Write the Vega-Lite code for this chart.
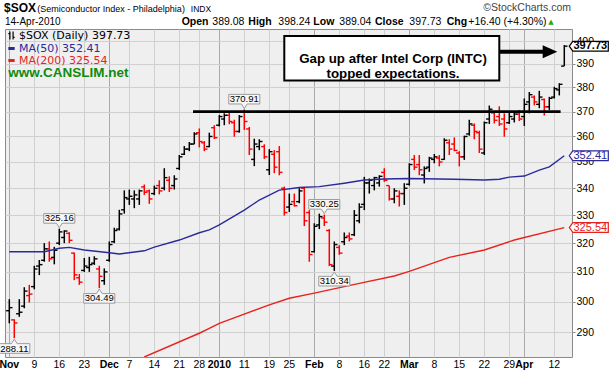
{
"$schema": "https://vega.github.io/schema/vega-lite/v6.json",
"width": 567, "height": 328,
"autosize": {"type": "none"},
"padding": {"left": 5, "top": 29, "right": 42, "bottom": 19},
"background": "white",
"config": {"view": {"fill": "#efefef", "stroke": "#8a8a8a", "strokeWidth": 1}},
"datasets": {
"ohlc": [
{"d":"2009-11-02","o":297,"h":300.8,"l":292.9,"c":298},
{"d":"2009-11-03","o":294,"h":294.2,"l":288.11,"c":293},
{"d":"2009-11-04","o":296,"h":300.8,"l":295.0,"c":296.5},
{"d":"2009-11-05","o":298.5,"h":304.8,"l":297.8,"c":303.5},
{"d":"2009-11-06","o":302,"h":305.6,"l":299.7,"c":302.5},
{"d":"2009-11-09","o":305,"h":312.1,"l":304.1,"c":311},
{"d":"2009-11-10","o":312,"h":314.1,"l":308.9,"c":312.5},
{"d":"2009-11-11","o":314,"h":320.0,"l":313.5,"c":318},
{"d":"2009-11-12","o":318,"h":320.6,"l":313.5,"c":314.5},
{"d":"2009-11-13","o":315,"h":318.7,"l":312.6,"c":317.5},
{"d":"2009-11-16","o":320,"h":325.16,"l":319.3,"c":324},
{"d":"2009-11-17","o":322,"h":324.6,"l":320,"c":324.3},
{"d":"2009-11-18","o":323.5,"h":323.9,"l":320,"c":321},
{"d":"2009-11-19","o":316.5,"h":316.7,"l":307.2,"c":309},
{"d":"2009-11-20","o":308,"h":309.3,"l":305.6,"c":306.5},
{"d":"2009-11-23","o":310.5,"h":314.8,"l":310.0,"c":312},
{"d":"2009-11-24","o":311.5,"h":315.2,"l":310.0,"c":312.5},
{"d":"2009-11-25","o":313,"h":315.4,"l":312.4,"c":314.5},
{"d":"2009-11-27","o":311,"h":312.1,"l":304.49,"c":308.5},
{"d":"2009-11-30","o":307,"h":311.2,"l":305.6,"c":310},
{"d":"2009-12-01","o":314,"h":320.6,"l":313.5,"c":319.5},
{"d":"2009-12-02","o":320.5,"h":325.5,"l":320,"c":324.5},
{"d":"2009-12-03","o":325,"h":332,"l":324.5,"c":330.5},
{"d":"2009-12-04","o":332,"h":339.2,"l":330.6,"c":336.5},
{"d":"2009-12-07","o":336,"h":339.5,"l":333.8,"c":337},
{"d":"2009-12-08","o":336,"h":339.2,"l":332.6,"c":337.5},
{"d":"2009-12-09","o":336,"h":339.5,"l":333.8,"c":339},
{"d":"2009-12-10","o":340.5,"h":341.4,"l":337.5,"c":338.5},
{"d":"2009-12-11","o":339,"h":339.5,"l":334.2,"c":336},
{"d":"2009-12-14","o":338,"h":341.0,"l":337.4,"c":340},
{"d":"2009-12-15","o":341,"h":343.0,"l":337.7,"c":339},
{"d":"2009-12-16","o":340,"h":347.6,"l":339.2,"c":344},
{"d":"2009-12-17","o":343,"h":344.5,"l":338.6,"c":340},
{"d":"2009-12-18","o":341,"h":344.9,"l":339.5,"c":343.5},
{"d":"2009-12-21","o":347.5,"h":352.7,"l":346.9,"c":352},
{"d":"2009-12-22","o":353,"h":356.2,"l":352.7,"c":355},
{"d":"2009-12-23","o":355,"h":357.8,"l":354.2,"c":357},
{"d":"2009-12-24","o":357,"h":361.7,"l":356.9,"c":361},
{"d":"2009-12-28","o":361.5,"h":363.2,"l":355.7,"c":358},
{"d":"2009-12-29","o":357.5,"h":358.2,"l":354.2,"c":355},
{"d":"2009-12-30","o":356,"h":361.5,"l":355.7,"c":360},
{"d":"2009-12-31","o":363.5,"h":364.5,"l":359,"c":359.5},
{"d":"2010-01-04","o":364.5,"h":368.6,"l":364.0,"c":368},
{"d":"2010-01-05","o":367,"h":369.3,"l":364.5,"c":368.5},
{"d":"2010-01-06","o":368.5,"h":369.9,"l":364.9,"c":366},
{"d":"2010-01-07","o":365.5,"h":366.7,"l":359.9,"c":362},
{"d":"2010-01-08","o":362,"h":368.6,"l":361.5,"c":368},
{"d":"2010-01-11","o":370,"h":370.91,"l":362.6,"c":366},
{"d":"2010-01-12","o":363,"h":363.8,"l":352.7,"c":355},
{"d":"2010-01-13","o":351,"h":359.1,"l":348.4,"c":357},
{"d":"2010-01-14","o":356,"h":358.9,"l":354.6,"c":358},
{"d":"2010-01-15","o":356,"h":356.9,"l":351.2,"c":352},
{"d":"2010-01-19","o":347,"h":355,"l":345,"c":354},
{"d":"2010-01-20","o":353,"h":354.6,"l":345.7,"c":348},
{"d":"2010-01-21","o":354,"h":356.2,"l":344.9,"c":346},
{"d":"2010-01-22","o":340,"h":340.6,"l":329.9,"c":331},
{"d":"2010-01-25","o":333,"h":338.0,"l":331.2,"c":334},
{"d":"2010-01-26","o":335,"h":338.0,"l":333.2,"c":333.5},
{"d":"2010-01-27","o":335,"h":340,"l":334.4,"c":339},
{"d":"2010-01-28","o":340,"h":340.5,"l":326.1,"c":328},
{"d":"2010-01-29","o":331,"h":331.9,"l":313.5,"c":316},
{"d":"2010-02-01","o":317,"h":327.1,"l":316.7,"c":326},
{"d":"2010-02-02","o":326.5,"h":330.6,"l":325.0,"c":329.5},
{"d":"2010-02-03","o":329,"h":330.25,"l":326.1,"c":327.5},
{"d":"2010-02-04","o":324.5,"h":325,"l":312.0,"c":312.5},
{"d":"2010-02-05","o":312,"h":320.6,"l":310.34,"c":319.5},
{"d":"2010-02-08","o":318.5,"h":319.3,"l":315.9,"c":316.5},
{"d":"2010-02-09","o":320.5,"h":323.8,"l":319.3,"c":322},
{"d":"2010-02-10","o":322.5,"h":323.8,"l":320.6,"c":321.5},
{"d":"2010-02-11","o":323,"h":331.9,"l":322.5,"c":330},
{"d":"2010-02-12","o":328,"h":334.4,"l":327.1,"c":333},
{"d":"2010-02-16","o":334,"h":344.3,"l":331.9,"c":342},
{"d":"2010-02-17","o":342,"h":343.7,"l":338,"c":343},
{"d":"2010-02-18","o":341,"h":344.3,"l":339.2,"c":344},
{"d":"2010-02-19","o":342,"h":344.9,"l":340.6,"c":344.5},
{"d":"2010-02-22","o":346,"h":347.6,"l":342.4,"c":343},
{"d":"2010-02-23","o":341,"h":341,"l":335.4,"c":336},
{"d":"2010-02-24","o":336,"h":340,"l":334.4,"c":339},
{"d":"2010-02-25","o":337,"h":339.2,"l":333.2,"c":338},
{"d":"2010-02-26","o":338,"h":341.9,"l":333.8,"c":340},
{"d":"2010-03-01","o":341.5,"h":349.5,"l":341,"c":349},
{"d":"2010-03-02","o":351,"h":352.7,"l":346.9,"c":348},
{"d":"2010-03-03","o":349,"h":352.7,"l":344.9,"c":347},
{"d":"2010-03-04","o":345,"h":348.3,"l":341.8,"c":347.5},
{"d":"2010-03-05","o":348,"h":352.0,"l":346.2,"c":351.5},
{"d":"2010-03-08","o":351,"h":353.1,"l":349.5,"c":352},
{"d":"2010-03-09","o":351.5,"h":352.7,"l":348.3,"c":350},
{"d":"2010-03-10","o":351,"h":359.3,"l":350.8,"c":358.5},
{"d":"2010-03-11","o":357.5,"h":358.9,"l":352.7,"c":355},
{"d":"2010-03-12","o":357,"h":359.6,"l":354.2,"c":354.5},
{"d":"2010-03-15","o":353.5,"h":354.2,"l":348.3,"c":352},
{"d":"2010-03-16","o":352,"h":360.3,"l":350.8,"c":360},
{"d":"2010-03-17","o":361,"h":366.7,"l":360.3,"c":365},
{"d":"2010-03-18","o":364.5,"h":365.2,"l":358.9,"c":362},
{"d":"2010-03-19","o":361.5,"h":362.3,"l":353.5,"c":355},
{"d":"2010-03-22","o":353.5,"h":366,"l":352.7,"c":365.5},
{"d":"2010-03-23","o":367,"h":372.5,"l":365,"c":371},
{"d":"2010-03-24","o":369.5,"h":370,"l":365.2,"c":366.5},
{"d":"2010-03-25","o":368,"h":372.2,"l":364.2,"c":365},
{"d":"2010-03-26","o":367,"h":369.3,"l":359.9,"c":363},
{"d":"2010-03-29","o":365.5,"h":369.6,"l":365,"c":368},
{"d":"2010-03-30","o":367,"h":370,"l":365.6,"c":369},
{"d":"2010-03-31","o":369,"h":370.7,"l":366.2,"c":367},
{"d":"2010-04-01","o":368,"h":375.4,"l":364.2,"c":373},
{"d":"2010-04-05","o":374,"h":378.1,"l":369.3,"c":377},
{"d":"2010-04-06","o":376,"h":376.7,"l":372.6,"c":374},
{"d":"2010-04-07","o":373,"h":378.6,"l":371.4,"c":376},
{"d":"2010-04-08","o":375,"h":375.4,"l":368.4,"c":372},
{"d":"2010-04-09","o":372,"h":376.1,"l":370.7,"c":375.5},
{"d":"2010-04-12","o":376,"h":380.3,"l":375.4,"c":379.5},
{"d":"2010-04-13","o":379,"h":381.8,"l":376.7,"c":381.33},
{"d":"2010-04-14","o":389.08,"h":398.24,"l":389.04,"c":397.73}
],
"ma": [
{"d":"2009-11-02","s":"MA(50) 352.41","v":317.0},
{"d":"2009-11-11","s":"MA(50) 352.41","v":317.0},
{"d":"2009-11-16","s":"MA(50) 352.41","v":318.2},
{"d":"2009-11-18","s":"MA(50) 352.41","v":318.5},
{"d":"2009-11-23","s":"MA(50) 352.41","v":317.6},
{"d":"2009-12-01","s":"MA(50) 352.41","v":316.6},
{"d":"2009-12-03","s":"MA(50) 352.41","v":316.2},
{"d":"2009-12-10","s":"MA(50) 352.41","v":317.3},
{"d":"2009-12-14","s":"MA(50) 352.41","v":318.6},
{"d":"2009-12-21","s":"MA(50) 352.41","v":321.1},
{"d":"2009-12-28","s":"MA(50) 352.41","v":323.7},
{"d":"2009-12-30","s":"MA(50) 352.41","v":324.7},
{"d":"2010-01-04","s":"MA(50) 352.41","v":326.5},
{"d":"2010-01-11","s":"MA(50) 352.41","v":331.9},
{"d":"2010-01-14","s":"MA(50) 352.41","v":335.6},
{"d":"2010-01-21","s":"MA(50) 352.41","v":339.3},
{"d":"2010-01-27","s":"MA(50) 352.41","v":340.3},
{"d":"2010-02-02","s":"MA(50) 352.41","v":340.6},
{"d":"2010-02-09","s":"MA(50) 352.41","v":341.9},
{"d":"2010-02-16","s":"MA(50) 352.41","v":343.1},
{"d":"2010-02-22","s":"MA(50) 352.41","v":343.5},
{"d":"2010-03-01","s":"MA(50) 352.41","v":343.7},
{"d":"2010-03-12","s":"MA(50) 352.41","v":343.4},
{"d":"2010-03-22","s":"MA(50) 352.41","v":343.1},
{"d":"2010-03-25","s":"MA(50) 352.41","v":343.4},
{"d":"2010-03-29","s":"MA(50) 352.41","v":344.2},
{"d":"2010-04-01","s":"MA(50) 352.41","v":344.6},
{"d":"2010-04-07","s":"MA(50) 352.41","v":346.9},
{"d":"2010-04-09","s":"MA(50) 352.41","v":348.1},
{"d":"2010-04-14","s":"MA(50) 352.41","v":352.41},
{"d":"2009-12-10","s":"MA(200) 325.54","v":282.2},
{"d":"2009-12-28","s":"MA(200) 325.54","v":289.7},
{"d":"2009-12-30","s":"MA(200) 325.54","v":291.3},
{"d":"2010-01-04","s":"MA(200) 325.54","v":292.9},
{"d":"2010-01-19","s":"MA(200) 325.54","v":298.9},
{"d":"2010-01-25","s":"MA(200) 325.54","v":301.1},
{"d":"2010-02-01","s":"MA(200) 325.54","v":302.8},
{"d":"2010-02-12","s":"MA(200) 325.54","v":306.1},
{"d":"2010-02-24","s":"MA(200) 325.54","v":308.6},
{"d":"2010-03-01","s":"MA(200) 325.54","v":310.2},
{"d":"2010-03-11","s":"MA(200) 325.54","v":315.0},
{"d":"2010-03-22","s":"MA(200) 325.54","v":317.6},
{"d":"2010-03-30","s":"MA(200) 325.54","v":321.1},
{"d":"2010-04-14","s":"MA(200) 325.54","v":325.54}
],
"ann": [
{"d":"2009-11-03","v":288.11,"k":"low"},
{"d":"2009-11-16","v":325.16,"k":"high"},
{"d":"2009-11-27","v":304.49,"k":"low"},
{"d":"2010-01-11","v":370.91,"k":"high"},
{"d":"2010-02-03","v":330.25,"k":"high"},
{"d":"2010-02-05","v":310.34,"k":"low"}
]
},
"layer": [
{
"data": {"name": "ohlc"},
"transform": [{"window": [{"op": "lag", "field": "c", "as": "pc"}], "sort": [{"field": "d", "order": "ascending"}]}],
"encoding": {
"x": {"field": "d", "type": "ordinal",
"scale": {"type": "band", "paddingInner": 0, "paddingOuter": 0.7, "align": 0.257},
"axis": {"title": null,
"values": ["2009-11-02","2009-11-09","2009-11-16","2009-11-23","2009-12-01","2009-12-07","2009-12-14","2009-12-21","2009-12-28","2010-01-04","2010-01-11","2010-01-19","2010-01-25","2010-02-01","2010-02-08","2010-02-16","2010-02-22","2010-03-01","2010-03-08","2010-03-15","2010-03-22","2010-03-29","2010-04-01","2010-04-12"],
"labelExpr": "datum.value == '2010-01-04' ? '2010' : (toNumber(slice(datum.value,8,10)) <= 2 ? ['Jan','Feb','Mar','Apr','May','Jun','Jul','Aug','Sep','Oct','Nov','Dec'][toNumber(slice(datum.value,5,7)) - 1] : '' + toNumber(slice(datum.value,8,10)))",
"labelFont": "Liberation Sans", "labelFontSize": 10.5, "labelColor": "#000000",
"labelFontWeight": {"condition": {"test": "toNumber(slice(datum.value,8,10)) <= 2 || datum.value == '2010-01-04'", "value": "bold"}, "value": "normal"},
"labelAngle": 0, "labelPadding": 2, "labelOverlap": false, "labelFlush": false,
"ticks": false, "domain": false, "grid": true, "gridWidth": 1,
"gridColor": {"condition": {"test": "toNumber(slice(datum.value,8,10)) <= 2 || datum.value == '2010-01-04'", "value": "#aaaaaa"}, "value": "#d0d0d0"},
"bandPosition": 0.5}},
"color": {"condition": {"test": "datum.pc != null && datum.c < datum.pc", "value": "#ff0000"}, "value": "#000000"}
},
"layer": [
{"mark": {"type": "rule", "strokeWidth": 1.5},
"encoding": {"y": {"field": "l", "type": "quantitative",
"scale": {"type": "log", "domain": [282.2, 405.35], "nice": false, "zero": false},
"axis": {"orient": "right", "title": null, "values": [290,300,310,320,330,340,350,360,370,380,390,400], "format": "d",
"labelFont": "Liberation Sans", "labelFontSize": 10.5, "labelColor": "#000000", "labelPadding": 1,
"ticks": true, "tickSize": 3, "tickColor": "#8a8a8a", "domain": false, "grid": true, "gridColor": "#d0d0d0", "labelFlush": false}},
"y2": {"field": "h"}}},
{"mark": {"type": "tick", "size": 3, "thickness": 1.4, "xOffset": -1.7, "opacity": 1},
"encoding": {"y": {"field": "o", "type": "quantitative"}}},
{"mark": {"type": "tick", "size": 3, "thickness": 1.4, "xOffset": 1.7, "opacity": 1},
"encoding": {"y": {"field": "c", "type": "quantitative"}}}
]
},
{
"data": {"name": "ma"},
"mark": {"type": "line", "clip": true, "strokeWidth": 1.4},
"encoding": {
"x": {"field": "d", "type": "ordinal"},
"y": {"field": "v", "type": "quantitative"},
"color": {"field": "s", "type": "nominal",
"scale": {"domain": ["$SOX (Daily) 397.73", "MA(50) 352.41", "MA(200) 325.54"], "range": ["#000000", "#2a2a9c", "#e8231f"]},
"legend": {"title": null, "orient": "top-left", "offset": 0, "padding": 1, "rowPadding": -3,
"symbolType": "stroke", "symbolSize": 40, "symbolStrokeWidth": 3,
"labelFont": "DejaVu Sans", "labelFontSize": 11, "labelOffset": 2, "labelLimit": 300,
"encode": {"labels": {"update": {"fill": {"scale": "color", "field": "value"}}},
"symbols": {"update": {"shape": {"signal": "datum.value == '$SOX (Daily) 397.73' ? 'M -0.5 -1.3 L -0.5 1.3 M -0.5 -0.6 L -1 -0.6 M 0.5 -1.3 L 0.5 1.3 M 0.5 0.6 L 1 0.6' : 'stroke'"},
"strokeWidth": {"signal": "datum.value == '$SOX (Daily) 397.73' ? 1.2 : 3"}}}}}}
}
},
{
"data": {"values": [{}]},
"mark": {"type": "rule", "strokeWidth": 2.6, "color": "#000000", "strokeCap": "square"},
"encoding": {"x": {"datum": "2009-12-24", "type": "ordinal"}, "x2": {"datum": "2010-04-13"}, "y": {"datum": 370, "type": "quantitative"}}
},
{
"data": {"name": "ann"},
"transform": [{"filter": "datum.k == 'high'"}],
"encoding": {"x": {"field": "d", "type": "ordinal"}, "y": {"field": "v", "type": "quantitative"}},
"layer": [
{"mark": {"type": "point", "shape": "M -0.97 -0.94 L 0.97 -0.94 L 0.97 -0.34 L 0.18 -0.34 L 0 -0.06 L -0.18 -0.34 L -0.97 -0.34 Z", "size": 1024, "filled": true, "fill": "#f7f7f7", "stroke": "#9a9a9a", "strokeWidth": 1, "opacity": 1}},
{"mark": {"type": "text", "dy": -10.3, "font": "Liberation Sans", "fontSize": 9.5, "color": "#000000", "baseline": "middle"},
"encoding": {"text": {"field": "v", "type": "quantitative", "format": ".2f"}}}
]
},
{
"data": {"name": "ann"},
"transform": [{"filter": "datum.k == 'low'"}],
"encoding": {"x": {"field": "d", "type": "ordinal"}, "y": {"field": "v", "type": "quantitative"}},
"layer": [
{"mark": {"type": "point", "shape": "M -0.97 0.94 L 0.97 0.94 L 0.97 0.34 L 0.18 0.34 L 0 0.06 L -0.18 0.34 L -0.97 0.34 Z", "size": 1024, "filled": true, "fill": "#f7f7f7", "stroke": "#9a9a9a", "strokeWidth": 1, "opacity": 1}},
{"mark": {"type": "text", "dy": 10.3, "font": "Liberation Sans", "fontSize": 9.5, "color": "#000000", "baseline": "middle"},
"encoding": {"text": {"field": "v", "type": "quantitative", "format": ".2f"}}}
]
},
{
"data": {"values": [{}]},
"mark": {"type": "rect", "fill": "#ffffff", "stroke": "#000000", "strokeWidth": 2},
"encoding": {"x": {"datum": "2010-01-22", "type": "ordinal"}, "x2": {"datum": "2010-03-25"}, "y": {"datum": 402.23, "type": "quantitative"}, "y2": {"datum": 382.95}}
},
{
"data": {"values": [{}]},
"mark": {"type": "text", "text": ["Gap up after Intel Corp (INTC)", "topped expectations."], "align": "center", "baseline": "middle", "lineHeight": 15, "dx": -1.3, "font": "Liberation Sans", "fontWeight": "bold", "fontSize": 13.3, "color": "#000000"},
"encoding": {"x": {"datum": "2010-02-24", "type": "ordinal"}, "y": {"datum": 392.1, "type": "quantitative"}}
},
{
"data": {"values": [{}]},
"mark": {"type": "rule", "strokeWidth": 4, "color": "#000000"},
"encoding": {"x": {"datum": "2010-03-25", "type": "ordinal"}, "x2": {"datum": "2010-04-08"}, "y": {"datum": 395.32, "type": "quantitative"}}
},
{
"data": {"values": [{}]},
"mark": {"type": "point", "shape": "M -1 -0.9 L 1 0 L -1 0.9 Z", "size": 213, "filled": true, "color": "#000000", "opacity": 1, "xOffset": 0.7},
"encoding": {"x": {"datum": "2010-04-09", "type": "ordinal"}, "y": {"datum": 395.32, "type": "quantitative"}}
},
{
"data": {"values": [{}]},
"mark": {"type": "point", "shape": "M -1 0 L -0.82 -0.25 L 1 -0.25 L 1 0.25 L -0.82 0.25 Z", "size": 1521, "filled": true, "fill": "#ffffff", "stroke": "#000000", "strokeWidth": 1.2, "opacity": 1, "xOffset": 24.5},
"encoding": {"x": {"datum": "2010-04-14", "type": "ordinal"}, "y": {"datum": 397.73, "type": "quantitative"}}
},
{
"data": {"values": [{}]},
"mark": {"type": "text", "text": "397.73", "align": "center", "baseline": "middle", "dx": 26, "font": "Liberation Sans", "fontSize": 11, "fontWeight": "bold", "color": "#000000"},
"encoding": {"x": {"datum": "2010-04-14", "type": "ordinal"}, "y": {"datum": 397.73, "type": "quantitative"}}
},
{
"data": {"values": [{}]},
"mark": {"type": "point", "shape": "M -1 0 L -0.82 -0.25 L 1 -0.25 L 1 0.25 L -0.82 0.25 Z", "size": 1521, "filled": true, "fill": "#ffffff", "stroke": "#2a2a9c", "strokeWidth": 1.2, "opacity": 1, "xOffset": 24.5},
"encoding": {"x": {"datum": "2010-04-14", "type": "ordinal"}, "y": {"datum": 352.41, "type": "quantitative"}}
},
{
"data": {"values": [{}]},
"mark": {"type": "text", "text": "352.41", "align": "center", "baseline": "middle", "dx": 26, "font": "Liberation Sans", "fontSize": 11, "color": "#2a2a9c"},
"encoding": {"x": {"datum": "2010-04-14", "type": "ordinal"}, "y": {"datum": 352.41, "type": "quantitative"}}
},
{
"data": {"values": [{}]},
"mark": {"type": "point", "shape": "M -1 0 L -0.82 -0.25 L 1 -0.25 L 1 0.25 L -0.82 0.25 Z", "size": 1521, "filled": true, "fill": "#ffffff", "stroke": "#e8231f", "strokeWidth": 1.2, "opacity": 1, "xOffset": 24.5},
"encoding": {"x": {"datum": "2010-04-14", "type": "ordinal"}, "y": {"datum": 325.54, "type": "quantitative"}}
},
{
"data": {"values": [{}]},
"mark": {"type": "text", "text": "325.54", "align": "center", "baseline": "middle", "dx": 26, "font": "Liberation Sans", "fontSize": 11, "color": "#e8231f"},
"encoding": {"x": {"datum": "2010-04-14", "type": "ordinal"}, "y": {"datum": 325.54, "type": "quantitative"}}
},
{
"data": {"values": [{}]},
"mark": {"type": "text", "text": "www.CANSLIM.net", "align": "left", "baseline": "middle", "dx": -1, "font": "Liberation Sans", "fontSize": 13.5, "fontWeight": "bold", "color": "#118a11"},
"encoding": {"x": {"datum": "2009-11-02", "type": "ordinal"}, "y": {"datum": 386.13, "type": "quantitative"}}
},
{
"data": {"values": [{}]},
"mark": {"type": "text", "text": "$SOX", "align": "left", "baseline": "middle", "dx": -5.3, "font": "Liberation Sans", "fontSize": 12, "fontWeight": "bold", "color": "#000000"},
"encoding": {"x": {"datum": "2009-11-02", "type": "ordinal"}, "y": {"datum": 414.86, "type": "quantitative"}}
},
{
"data": {"values": [{}]},
"mark": {"type": "text", "text": "(Semiconductor Index - Philadelphia)", "align": "left", "baseline": "middle", "dx": 28, "font": "Liberation Sans", "fontSize": 9, "color": "#000000"},
"encoding": {"x": {"datum": "2009-11-02", "type": "ordinal"}, "y": {"datum": 414.3, "type": "quantitative"}}
},
{
"data": {"values": [{}]},
"mark": {"type": "text", "text": "INDX", "align": "left", "baseline": "middle", "dx": 181.5, "font": "Liberation Sans", "fontSize": 8.5, "color": "#000000"},
"encoding": {"x": {"datum": "2009-11-02", "type": "ordinal"}, "y": {"datum": 414.3, "type": "quantitative"}}
},
{
"data": {"values": [{}]},
"mark": {"type": "text", "text": "14-Apr-2010", "align": "left", "baseline": "middle", "dx": -4.3, "font": "Liberation Sans", "fontSize": 10, "color": "#000000"},
"encoding": {"x": {"datum": "2009-11-02", "type": "ordinal"}, "y": {"datum": 408.27, "type": "quantitative"}}
},
{
"data": {"values": [{}]},
"mark": {"type": "text", "text": "Open", "align": "left", "baseline": "middle", "dx": 172.4, "font": "Liberation Sans", "fontSize": 10.5, "fontWeight": "bold", "color": "#000000"},
"encoding": {"x": {"datum": "2009-11-02", "type": "ordinal"}, "y": {"datum": 408.27, "type": "quantitative"}}
},
{
"data": {"values": [{}]},
"mark": {"type": "text", "text": "389.08", "align": "left", "baseline": "middle", "dx": 203, "font": "Liberation Sans", "fontSize": 10.5, "color": "#000000"},
"encoding": {"x": {"datum": "2009-11-02", "type": "ordinal"}, "y": {"datum": 408.27, "type": "quantitative"}}
},
{
"data": {"values": [{}]},
"mark": {"type": "text", "text": "High", "align": "left", "baseline": "middle", "dx": 239, "font": "Liberation Sans", "fontSize": 10.5, "fontWeight": "bold", "color": "#000000"},
"encoding": {"x": {"datum": "2009-11-02", "type": "ordinal"}, "y": {"datum": 408.27, "type": "quantitative"}}
},
{
"data": {"values": [{}]},
"mark": {"type": "text", "text": "398.24", "align": "left", "baseline": "middle", "dx": 269, "font": "Liberation Sans", "fontSize": 10.5, "color": "#000000"},
"encoding": {"x": {"datum": "2009-11-02", "type": "ordinal"}, "y": {"datum": 408.27, "type": "quantitative"}}
},
{
"data": {"values": [{}]},
"mark": {"type": "text", "text": "Low", "align": "left", "baseline": "middle", "dx": 304, "font": "Liberation Sans", "fontSize": 10.5, "fontWeight": "bold", "color": "#000000"},
"encoding": {"x": {"datum": "2009-11-02", "type": "ordinal"}, "y": {"datum": 408.27, "type": "quantitative"}}
},
{
"data": {"values": [{}]},
"mark": {"type": "text", "text": "389.04", "align": "left", "baseline": "middle", "dx": 330, "font": "Liberation Sans", "fontSize": 10.5, "color": "#000000"},
"encoding": {"x": {"datum": "2009-11-02", "type": "ordinal"}, "y": {"datum": 408.27, "type": "quantitative"}}
},
{
"data": {"values": [{}]},
"mark": {"type": "text", "text": "Close", "align": "left", "baseline": "middle", "dx": 365.7, "font": "Liberation Sans", "fontSize": 10.5, "fontWeight": "bold", "color": "#000000"},
"encoding": {"x": {"datum": "2009-11-02", "type": "ordinal"}, "y": {"datum": 408.27, "type": "quantitative"}}
},
{
"data": {"values": [{}]},
"mark": {"type": "text", "text": "397.73", "align": "left", "baseline": "middle", "dx": 400, "font": "Liberation Sans", "fontSize": 10.5, "color": "#000000"},
"encoding": {"x": {"datum": "2009-11-02", "type": "ordinal"}, "y": {"datum": 408.27, "type": "quantitative"}}
},
{
"data": {"values": [{}]},
"mark": {"type": "text", "text": "Chg", "align": "left", "baseline": "middle", "dx": 437.4, "font": "Liberation Sans", "fontSize": 10.5, "fontWeight": "bold", "color": "#000000"},
"encoding": {"x": {"datum": "2009-11-02", "type": "ordinal"}, "y": {"datum": 408.27, "type": "quantitative"}}
},
{
"data": {"values": [{}]},
"mark": {"type": "text", "text": "+16.40 (+4.30%)", "align": "left", "baseline": "middle", "dx": 459, "font": "Liberation Sans", "fontSize": 10.5, "color": "#000000"},
"encoding": {"x": {"datum": "2009-11-02", "type": "ordinal"}, "y": {"datum": 408.27, "type": "quantitative"}}
},
{
"data": {"values": [{}]},
"mark": {"type": "text", "text": "▲", "align": "left", "baseline": "middle", "dx": 539, "font": "DejaVu Sans", "fontSize": 7, "color": "#22aa22"},
"encoding": {"x": {"datum": "2009-11-02", "type": "ordinal"}, "y": {"datum": 408.27, "type": "quantitative"}}
},
{
"data": {"values": [{}]},
"mark": {"type": "text", "text": "©StockCharts.com", "align": "right", "baseline": "middle", "dx": 6.7, "font": "Liberation Sans", "fontSize": 10.5, "color": "#444444"},
"encoding": {"x": {"datum": "2010-04-14", "type": "ordinal"}, "y": {"datum": 414.72, "type": "quantitative"}}
}
]
}
